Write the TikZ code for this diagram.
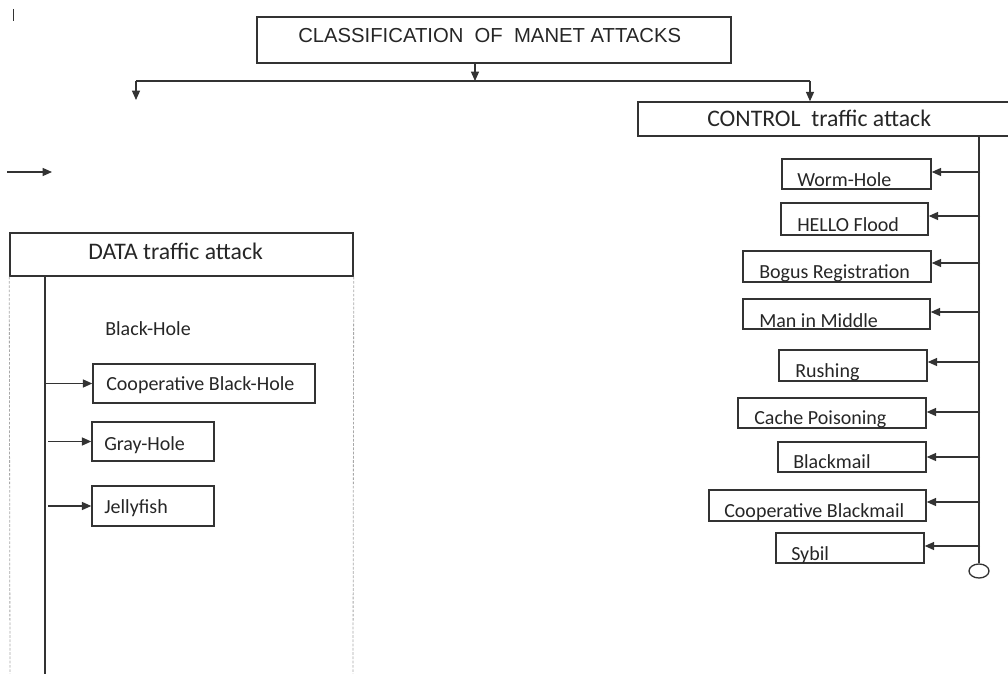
\documentclass[tikz,border=0pt]{standalone}
\usepackage{fontspec}
\setmainfont{Carlito}
\newfontfamily\arialf{Liberation Sans}
\usetikzlibrary{arrows.meta,fit,shapes.geometric}
\definecolor{ink}{HTML}{333333}
\definecolor{dashgray}{HTML}{A8A8A8}
\tikzset{
  box/.style={draw=ink, line width=1.1pt, inner sep=0pt},
  itemtext/.style={anchor=base west, inner sep=0pt, font=\fontsize{15pt}{18pt}\selectfont, text=black!85},
  headtext/.style={anchor=base west, inner sep=0pt, font=\fontsize{17.8pt}{21pt}\selectfont, text=black!85},
  conn/.style={draw=ink, line width=1pt},
  arr/.style={conn, -{Triangle[length=7pt,width=6pt]}},
}
\begin{document}
\begin{tikzpicture}[x=0.75pt,y=-0.75pt]
\useasboundingbox (0,0) rectangle (1008,674);

% stray mark in the corner
\draw[ink, line width=0.7pt] (13,9) -- (13,21);

% title
\node[box, fit={(257,17) (731,63)}] (title) {};
\node[anchor=base west, inner sep=0pt, font=\arialf\fontsize{15.2pt}{18pt}\selectfont, text=black!85]
  (titletext) at (298,42.5) {CLASSIFICATION\ \ OF\ \ MANET ATTACKS};

% branching line under the title
\coordinate (bl) at (136,81);
\coordinate (br) at (810,81);
\coordinate (bm) at (475,81);
\coordinate (lend) at (136,100);
\draw[arr] (title.south -| bm) -- (bm);
\draw[conn] (bl) -- (br);
\draw[arr] (bl) -- (lend);

% lone arrow on the left
\coordinate (la) at (7,172);
\coordinate (lb) at (52,172);
\draw[arr] (la) -- (lb);

% ---------- DATA traffic attack ----------
\node[box, fit={(10,233) (353,276)}] (data) {};
\node[headtext] (datatext) at (88,259) {DATA traffic attack};
\coordinate (dl) at (10,674);
\coordinate (dr) at (353,674);
\draw[dashgray, line width=0.6pt, dash pattern=on 2pt off 1.2pt] (data.south west) -- (dl);
\draw[dashgray, line width=0.6pt, dash pattern=on 2pt off 1.2pt] (data.south east) -- (dr);
\coordinate (dsp) at (45,276);
\coordinate (dspend) at (45,674);
\draw[conn] (dsp) -- (dspend);

\node[itemtext] (bh) at (105,335) {Black-Hole};

\node[box, fit={(93,364) (315,403)}] (cbh) {};
\node[itemtext] at (106,390) {Cooperative Black-Hole};
\draw[arr] (cbh.west -| dsp) -- (cbh.west);

\node[box, fit={(92,422) (214,461)}] (gh) {};
\node[itemtext] at (104,450) {Gray-Hole};
\draw[arr] ([xshift=2.3pt]gh.west -| dsp) -- (gh.west);

\node[box, fit={(92,486) (214,526)}] (jf) {};
\node[itemtext] at (104,513) {Jellyfish};
\draw[arr] ([xshift=2.3pt]jf.west -| dsp) -- (jf.west);

% ---------- CONTROL traffic attack ----------
\node[box, fit={(638,102) (1014,136)}] (ctl) {};
\node[headtext] (ctltext) at (707,127) {CONTROL\ \ traffic attack};
\draw[arr] (br) -- (ctl.north -| br);

\coordinate (csp) at (979,136);
\node[draw=ink, line width=1pt, ellipse, minimum width=15pt, minimum height=10.5pt, inner sep=0pt] (cend) at (979,571) {};
\draw[conn] (csp) -- (cend.north);

\node[box, fit={(782,159) (931,189)}] (wh) {};
\node[itemtext] at (797,186) {Worm-Hole};
\node[box, fit={(781,203) (928,235)}] (hf) {};
\node[itemtext] at (797,231) {HELLO Flood};
\node[box, fit={(743,251) (931,282)}] (br1) {};
\node[itemtext] at (759,278) {Bogus Registration};
\node[box, fit={(743,299) (930,329)}] (mim) {};
\node[itemtext] at (759,327) {Man in Middle};
\node[box, fit={(779,350) (927,381)}] (ru) {};
\node[itemtext] at (795,377.5) {Rushing};
\node[box, fit={(738,398) (926,428)}] (cp) {};
\node[itemtext] at (754,424.5) {Cache Poisoning};
\node[box, fit={(778,442) (926,472)}] (bm1) {};
\node[itemtext] at (793,468) {Blackmail};
\node[box, fit={(709,490) (926,521)}] (cbm) {};
\node[itemtext] at (724,517) {Cooperative Blackmail};
\node[box, fit={(776,533) (924,563)}] (sy) {};
\node[itemtext] at (791,560) {Sybil};

\foreach \n/\dy in {wh/-2,hf/-3,br1/-3.5,mim/-2,ru/-3.5,cp/-1,bm1/0,cbm/-3.5,sy/-2}{
  \draw[arr] ([xshift=0.8pt,yshift={-(\dy)*0.75pt}]\n.east -| csp) -- ([yshift={-(\dy)*0.75pt}]\n.east);
}
\end{tikzpicture}
\end{document}
